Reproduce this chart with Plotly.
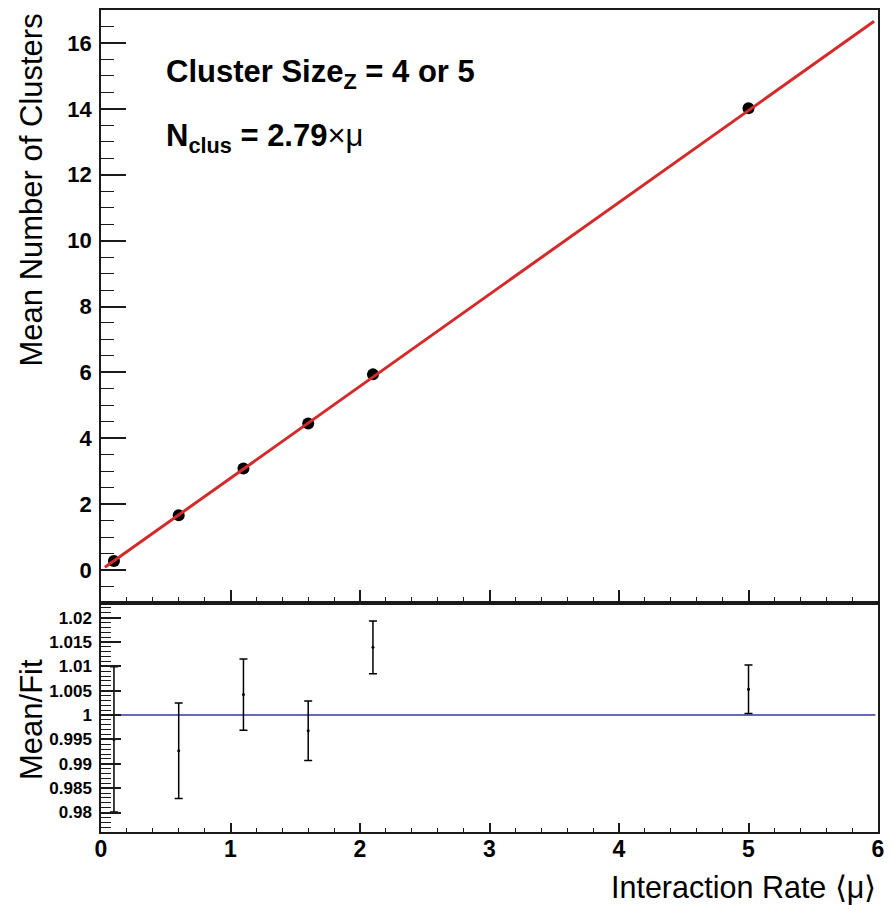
import plotly.graph_objects as go

# ---------------- data ----------------
mu = [0.1, 0.6, 1.1, 1.6, 2.1, 5.0]
mean_clusters = [0.278, 1.662, 3.081, 4.450, 5.940, 14.02]
ratio = [0.9950, 0.9927, 1.0042, 0.9968, 1.0139, 1.0053]
ratio_err = [0.0149, 0.0098, 0.0073, 0.0061, 0.0054, 0.0050]
fit_slope = 2.79
fit_range = [0.03, 5.97]
unity_range = [0.05, 5.98]

x_ticks = [0, 1, 2, 3, 4, 5, 6]
y_top_ticks = [0, 2, 4, 6, 8, 10, 12, 14, 16]
y_bot_ticks = [0.98, 0.985, 0.99, 0.995, 1.0, 1.005, 1.01, 1.015, 1.02]
y_bot_labels = ["0.98", "0.985", "0.99", "0.995", "1", "1.005", "1.01", "1.015", "1.02"]

# ---------------- geometry ----------------
W, H = 893, 905
L, R, T, B = 101, 878, 10, 832       # plot-area edges in pixels
SPLIT = 603                           # boundary between the two pads
PW, PH = R - L, B - T


def px(x):
    return (x - L) / PW


def py(y):
    return (B - y) / PH


FONT = "Liberation Sans, Arial, Helvetica, sans-serif"
LINE = "#1a1a1a"

fig = go.Figure()

# top panel: data points and fit
fig.add_trace(go.Scatter(
    x=mu, y=mean_clusters, mode="markers",
    marker=dict(color="black", size=12),
    xaxis="x", yaxis="y", showlegend=False, hoverinfo="skip"))

fit_x = fit_range
fit_y = [fit_slope * v for v in fit_x]
fig.add_trace(go.Scatter(
    x=fit_x, y=fit_y, mode="lines",
    line=dict(color="#d42a2a", width=3),
    xaxis="x", yaxis="y", showlegend=False, hoverinfo="skip"))

# bottom panel: ratio and unity line
fig.add_trace(go.Scatter(
    x=unity_range, y=[1, 1], mode="lines",
    line=dict(color="#34399a", width=1.5),
    xaxis="x2", yaxis="y2", showlegend=False, hoverinfo="skip"))
fig.add_trace(go.Scatter(
    x=mu, y=ratio, mode="markers",
    marker=dict(color="black", size=3),
    error_y=dict(type="data", array=ratio_err, visible=True,
                 color="black", thickness=1.5, width=4),
    xaxis="x2", yaxis="y2", showlegend=False, hoverinfo="skip"))

common_axis = dict(showgrid=False, zeroline=False, showline=True, mirror=True,
                   linecolor=LINE, linewidth=1.5, ticks="inside",
                   tickcolor=LINE, tickwidth=1.5)

fig.update_layout(
    width=W, height=H,
    margin=dict(l=L, r=W - R, t=T, b=H - B, pad=0, autoexpand=False),
    paper_bgcolor="white", plot_bgcolor="white",
    showlegend=False,
    xaxis=dict(domain=[0, 1], anchor="y", range=[0, 6], tickvals=x_ticks,
               showticklabels=False, ticklen=13,
               minor=dict(ticks="inside", ticklen=6, dtick=0.2, tick0=0,
                          tickcolor=LINE, tickwidth=1.2, showgrid=False),
               **common_axis),
    yaxis=dict(domain=[py(SPLIT), 1], anchor="x", range=[-1, 17],
               tickvals=y_top_ticks, ticklen=25, ticklabelstandoff=3,
               tickfont=dict(family=FONT, size=22, color="black", weight="bold"),
               minor=dict(ticks="inside", ticklen=13, dtick=0.5, tick0=0,
                          tickcolor=LINE, tickwidth=1.2, showgrid=False),
               **common_axis),
    xaxis2=dict(domain=[0, 1], anchor="y2", range=[0, 6], tickvals=x_ticks,
                ticklen=9, ticklabelstandoff=-4,
                tickfont=dict(family=FONT, size=23, color="black", weight="bold"),
                minor=dict(ticks="inside", ticklen=4, dtick=0.2, tick0=0,
                           tickcolor=LINE, tickwidth=1.2, showgrid=False),
                **common_axis),
    yaxis2=dict(domain=[0, py(SPLIT)], anchor="x2", range=[0.976, 1.023],
                tickvals=y_bot_ticks, ticktext=y_bot_labels, ticklen=20,
                ticklabelstandoff=4,
                tickfont=dict(family=FONT, size=17, color="black", weight="bold"),
                minor=dict(ticks="inside", ticklen=10, dtick=0.001, tick0=0.98,
                           tickcolor=LINE, tickwidth=1.0, showgrid=False),
                **common_axis),
)

ann = []
ann.append(dict(text="Interaction Rate \u27e8\u03bc\u27e9", xref="paper", yref="paper",
                x=px(878), y=py(888), xanchor="right", yanchor="middle",
                showarrow=False, font=dict(family=FONT, size=30.5, color="black")))
ann.append(dict(text="Mean Number of Clusters", xref="paper", yref="paper",
                x=px(31), y=py(12), xanchor="center", yanchor="top", textangle=-90,
                showarrow=False, font=dict(family=FONT, size=31, color="black")))
ann.append(dict(text="Mean/Fit", xref="paper", yref="paper",
                x=px(31), y=py(720), xanchor="center", yanchor="middle", textangle=-90,
                showarrow=False, font=dict(family=FONT, size=31, color="black")))
ann.append(dict(text="<b>Cluster Size<sub>Z</sub> = 4 or 5</b>", xref="paper", yref="paper",
                x=px(164), y=py(74), xanchor="left", yanchor="middle",
                showarrow=False, font=dict(family=FONT, size=31, color="black")))
ann.append(dict(text="<b>N<sub>clus</sub> = %.2f</b>\u00d7\u03bc" % fit_slope, xref="paper", yref="paper",
                x=px(164), y=py(138), xanchor="left", yanchor="middle",
                showarrow=False, font=dict(family=FONT, size=31, color="black")))
fig.update_layout(annotations=ann)

fig.write_html("out.html")
